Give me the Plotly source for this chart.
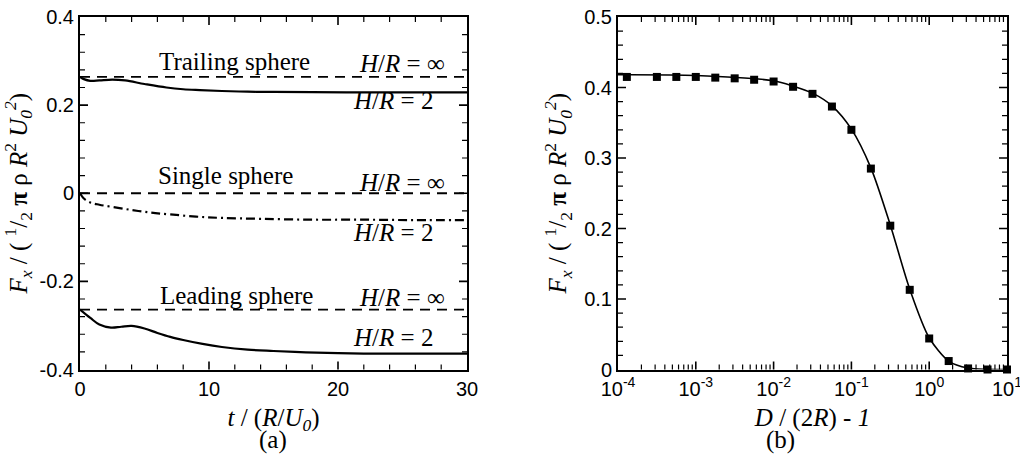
import plotly.graph_objects as go

# ---------------- Panel (a) data ----------------
t_trail = [0, 0.3, 0.8, 1.5, 2.5, 3.5, 5, 6.7, 8, 9.3, 11, 13, 15, 18, 22, 26, 30]
f_trail = [0.264, 0.259, 0.255, 0.256, 0.258, 0.256, 0.248, 0.240, 0.236, 0.234,
           0.232, 0.2305, 0.230, 0.2295, 0.229, 0.229, 0.229]

t_single = [0, 0.3, 0.8, 1.5, 2.5, 4, 5.5, 7, 9, 11, 14, 18, 22, 26, 30]
f_single = [0.0, -0.012, -0.021, -0.026, -0.031, -0.038, -0.044, -0.048, -0.053,
            -0.056, -0.058, -0.060, -0.060, -0.061, -0.061]

t_lead = [0, 0.8, 1.5, 2.4, 3.2, 4.0, 5.0, 6.0, 7.0, 8.0, 9.5, 11, 13, 15, 17.5,
          20, 23, 26, 30]
f_lead = [-0.264, -0.283, -0.298, -0.305, -0.303, -0.301, -0.307, -0.317, -0.326,
          -0.333, -0.342, -0.349, -0.355, -0.358, -0.361, -0.363, -0.364, -0.364, -0.364]

t_inf = [0, 30]
f_trail_inf = [0.264, 0.264]
f_single_inf = [0.0, 0.0]
f_lead_inf = [-0.264, -0.264]

# ---------------- Panel (b) data ----------------
gap = [1.3e-4, 3.16e-4, 5.62e-4, 1e-3, 1.78e-3, 3.16e-3, 5.62e-3, 1e-2, 1.78e-2,
       3.16e-2, 5.62e-2, 0.1, 0.178, 0.316, 0.562, 1.0, 1.78, 3.16, 5.62, 10.0]
force = [0.415, 0.415, 0.415, 0.415, 0.414, 0.413, 0.411, 0.4085, 0.401, 0.391,
         0.373, 0.340, 0.285, 0.204, 0.113, 0.044, 0.012, 0.0015, 0.0, 0.0]

fit_x = [1e-4, 1e-3, 1e-2, 1.78e-2, 3.16e-2, 5.62e-2, 0.1, 0.178, 0.316, 0.562,
         1.0, 1.78, 3.16, 5.62, 10.0]
fit_y = [0.418, 0.417, 0.4095, 0.402, 0.392, 0.374, 0.341, 0.286, 0.205, 0.114,
         0.045, 0.012, 0.002, 0.0003, 0.0]

# ---------------- tick labels ----------------
xa_vals = [0, 10, 20, 30]
ya_vals = [-0.4, -0.2, 0, 0.2, 0.4]
ya_text = ["-0.4", "-0.2", "0", "0.2", "0.4"]
yb_vals = [0, 0.1, 0.2, 0.3, 0.4, 0.5]
yb_text = ["0", "0.1", "0.2", "0.3", "0.4", "0.5"]
xb_vals = [1e-4, 1e-3, 1e-2, 1e-1, 1, 10]
xb_text = ["10<sup>-4</sup>", "10<sup>-3</sup>", "10<sup>-2</sup>",
           "10<sup>-1</sup>", "10<sup>0</sup>", "10<sup>1</sup>"]

# tick-mark positions (axis furniture, drawn inside the frame)
xa_major = [10, 20]
xa_minor = [v for v in range(2, 30, 2) if v % 10 != 0]
ya_major = [-0.2, 0.0, 0.2]
ya_minor = [k * 0.04 for k in range(-9, 10) if k % 5 != 0]
yb_major = [0.1, 0.2, 0.3, 0.4]
yb_minor = [k * 0.02 for k in range(1, 25) if k % 5 != 0]
xb_major = [1e-3, 1e-2, 1e-1, 1.0]
xb_minor = [m * 10.0 ** d for d in range(-4, 1) for m in range(2, 10)]

W, H = 1020, 460
SERIF = "Liberation Serif"
SANS = "Liberation Sans"

fig = go.Figure()

solid = dict(color="black", width=2.2)
dashed = dict(color="black", width=1.8, dash="10px,7px")
dashdot = dict(color="black", width=2.2, dash="9px,4px,2px,4px")

fig.add_trace(go.Scatter(x=t_inf, y=f_trail_inf, mode="lines", line=dashed, xaxis="x", yaxis="y"))
fig.add_trace(go.Scatter(x=t_inf, y=f_single_inf, mode="lines", line=dashed, xaxis="x", yaxis="y"))
fig.add_trace(go.Scatter(x=t_inf, y=f_lead_inf, mode="lines", line=dashed, xaxis="x", yaxis="y"))
fig.add_trace(go.Scatter(x=t_trail, y=f_trail, mode="lines", line=dict(shape="spline", **solid), xaxis="x", yaxis="y"))
fig.add_trace(go.Scatter(x=t_single, y=f_single, mode="lines", line=dict(shape="spline", **dashdot), xaxis="x", yaxis="y"))
fig.add_trace(go.Scatter(x=t_lead, y=f_lead, mode="lines", line=dict(shape="spline", **solid), xaxis="x", yaxis="y"))

fig.add_trace(go.Scatter(x=fit_x, y=fit_y, mode="lines",
                         line=dict(color="black", width=1.6, shape="spline", smoothing=0.8),
                         xaxis="x2", yaxis="y2"))
fig.add_trace(go.Scatter(x=gap, y=force, mode="markers",
                         marker=dict(symbol="square", size=8, color="black"),
                         xaxis="x2", yaxis="y2", cliponaxis=False))

ydom = [1 - 369.5 / H, 1 - 17 / H]
xdom_a = [80 / W, 467 / W]
xdom_b = [618 / W, 1007 / W]
tickfont = dict(family=SANS, size=20, color="black")
titlefont = dict(family=SERIF, size=25, color="black")

common = dict(showgrid=False, zeroline=False, showline=True, linecolor="black",
              linewidth=2, mirror=True, ticks="", tickfont=tickfont,
              ticklabeloverflow="allow", automargin=False)

ytitle = ("<i>F<sub>x</sub></i> / ( <sup>1</sup>/<sub>2</sub> <b>π</b> ρ "
          "<i>R</i><sup>2</sup> <i>U<sub>0</sub><sup>2</sup></i>)")

fig.update_layout(
    width=W, height=H, margin=dict(l=0, r=0, t=0, b=0, autoexpand=False),
    paper_bgcolor="white", plot_bgcolor="white", showlegend=False,
    xaxis=dict(domain=xdom_a, range=[0, 30], tickvals=xa_vals,
               title=dict(text="<i>t</i> / (<i>R</i>/<i>U<sub>0</sub></i>)", font=titlefont, standoff=10),
               anchor="y", **common),
    yaxis=dict(domain=ydom, range=[-0.4, 0.4], tickvals=ya_vals, ticktext=ya_text,
               title=dict(text=ytitle, font=titlefont, standoff=6),
               anchor="x", **common),
    xaxis2=dict(domain=xdom_b, type="log", range=[-4, 1], tickvals=xb_vals, ticktext=xb_text,
                title=dict(text="<i>D</i> / (2<i>R</i>) - <i>1</i>", font=titlefont, standoff=10),
                anchor="y2", **common),
    yaxis2=dict(domain=ydom, range=[0, 0.5], tickvals=yb_vals, ticktext=yb_text,
                title=dict(text=ytitle, font=titlefont, standoff=10),
                anchor="x2", **common),
)

# inward tick marks on all four sides of both frames
plot_h = (ydom[1] - ydom[0]) * H
wa = (xdom_a[1] - xdom_a[0]) * W
wb = (xdom_b[1] - xdom_b[0]) * W
MAJ, MIN = 8, 5
shapes = []


def xticks(xref, yref, vals, length, width):
    f = length / plot_h
    for v in vals:
        for y0, y1 in [(0, f), (1, 1 - f)]:
            shapes.append(dict(type="line", xref=xref, yref=yref + " domain", x0=v, x1=v,
                               y0=y0, y1=y1, line=dict(color="black", width=width), layer="above"))


def yticks(xref, yref, vals, length, width, w_px):
    f = length / w_px
    for v in vals:
        for x0, x1 in [(0, f), (1, 1 - f)]:
            shapes.append(dict(type="line", xref=xref + " domain", yref=yref, x0=x0, x1=x1,
                               y0=v, y1=v, line=dict(color="black", width=width), layer="above"))


xticks("x", "y", xa_major, MAJ, 1.6)
xticks("x", "y", xa_minor, MIN, 1.2)
yticks("x", "y", ya_major, MAJ, 1.6, wa)
yticks("x", "y", ya_minor, MIN, 1.2, wa)
xticks("x2", "y2", xb_major, MAJ, 1.6)
xticks("x2", "y2", xb_minor, MIN, 1.2)
yticks("x2", "y2", yb_major, MAJ, 1.6, wb)
yticks("x2", "y2", yb_minor, MIN, 1.2, wb)
fig.update_layout(shapes=shapes)

lab = dict(family=SERIF, size=25, color="black")
ann = []
for txt, x, y in [("Trailing sphere", 12.0, 0.298), ("Single sphere", 11.3, 0.041),
                  ("Leading sphere", 12.1, -0.232)]:
    ann.append(dict(x=x, y=y, xref="x", yref="y", text=txt, showarrow=False,
                    font=lab, xanchor="center", yanchor="middle"))
for y in [0.295, 0.025, -0.236]:
    ann.append(dict(x=28.45, y=y, xref="x", yref="y", text="<i>H</i>/<i>R</i> = ∞", showarrow=False,
                    font=lab, xanchor="right", yanchor="middle"))
for y in [0.211, -0.089, -0.327]:
    ann.append(dict(x=27.5, y=y, xref="x", yref="y", text="<i>H</i>/<i>R</i> = 2", showarrow=False,
                    font=lab, xanchor="right", yanchor="middle"))
ann.append(dict(x=273 / W, y=1 - 440 / H, xref="paper", yref="paper", text="(a)", showarrow=False,
                font=dict(family=SERIF, size=25, color="black"), xanchor="center", yanchor="middle"))
ann.append(dict(x=780 / W, y=1 - 440 / H, xref="paper", yref="paper", text="(b)", showarrow=False,
                font=dict(family=SERIF, size=25, color="black"), xanchor="center", yanchor="middle"))
fig.update_layout(annotations=ann)

fig.write_html("out.html")
